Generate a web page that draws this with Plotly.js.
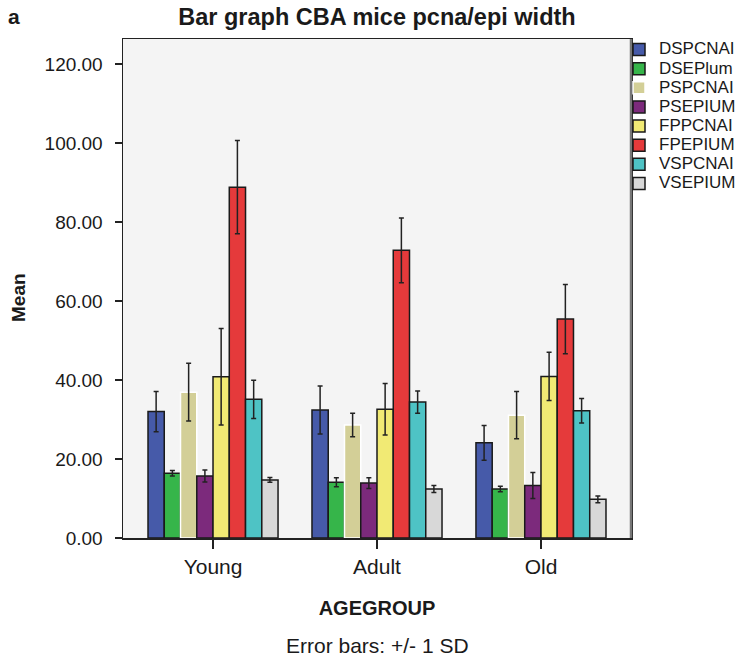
<!DOCTYPE html>
<html>
<head>
<meta charset="utf-8">
<script src="https://cdn.plot.ly/plotly-3.0.1.min.js"></script>
<style>body{margin:0;background:#fff;} #chart{width:738px;height:659px;}</style>
</head>
<body>
<div id="chart"></div>
<script>
const groups = ["Young", "Adult", "Old"];
const seriesNames = ["DSPCNAI", "DSEPlum", "PSPCNAI", "PSEPIUM", "FPPCNAI", "FPEPIUM", "VSPCNAI", "VSEPIUM"];
const DSPCNAI = [32.0, 32.4, 24.1];
const DSEPlum = [16.4, 14.1, 12.4];
const PSPCNAI = [36.9, 28.6, 31.1];
const PSEPIUM = [15.7, 13.9, 13.3];
const FPPCNAI = [40.8, 32.6, 40.9];
const FPEPIUM = [88.8, 72.8, 55.4];
const VSPCNAI = [35.1, 34.4, 32.2];
const VSEPIUM = [14.7, 12.4, 9.8];
const DSPCNAI_sd = [5.1, 6.1, 4.4];
const DSEPlum_sd = [0.7, 1.15, 0.7];
const PSPCNAI_sd = [7.3, 3.0, 6.0];
const PSEPIUM_sd = [1.5, 1.35, 3.3];
const FPPCNAI_sd = [12.2, 6.5, 6.1];
const FPEPIUM_sd = [11.8, 8.2, 8.75];
const VSPCNAI_sd = [4.85, 2.8, 3.1];
const VSEPIUM_sd = [0.6, 0.9, 0.85];
const yTicks = [0, 20, 40, 60, 80, 100, 120];

const means = [DSPCNAI, DSEPlum, PSPCNAI, PSEPIUM, FPPCNAI, FPEPIUM, VSPCNAI, VSEPIUM];
const sds = [DSPCNAI_sd, DSEPlum_sd, PSPCNAI_sd, PSEPIUM_sd, FPPCNAI_sd, FPEPIUM_sd, VSPCNAI_sd, VSEPIUM_sd];
const colors = ["#465aa9", "#36b54a", "#d3cf97", "#7c2a7c", "#f1ea74", "#e53a3b", "#4ec3c5", "#d8d8d8"];
const outlines = ["#1a1a1a", "#1a1a1a", "#ffffff", "#1a1a1a", "#1a1a1a", "#1a1a1a", "#1a1a1a", "#1a1a1a"];

const font = "Liberation Sans, Arial, Helvetica, sans-serif";
const W = 738, H = 659, L = 123, R = 631, T = 39, B = 538;
const pw = R - L, ph = B - T;
const px = v => (v - L) / pw;
const py = v => (B - v) / ph;

const traces = seriesNames.map((n, i) => ({
  type: "bar",
  name: "<span style='font-size:17px'>" + n + "</span>",
  x: groups,
  y: means[i],
  marker: {color: colors[i], line: {color: outlines[i], width: 1.5}},
  error_y: {type: "data", array: sds[i], visible: true, color: "#222", thickness: 1.5, width: 2.5}
}));

const layout = {
  width: W, height: H,
  margin: {l: L, r: W - R, t: T, b: H - B, autoexpand: false},
  paper_bgcolor: "#ffffff",
  plot_bgcolor: "#f4f4f4",
  barmode: "group",
  bargap: 0.207,
  bargroupgap: 0,
  font: {family: font, color: "#1a1a1a"},
  title: {text: "<b>Bar graph CBA mice pcna/epi width</b>", font: {size: 23.5, family: font, color: "#1a1a1a"},
          x: 0.5, xref: "paper", y: 1 - 17/H, yref: "container", yanchor: "middle"},
  xaxis: {
    range: [-0.549, 2.549],
    showline: true, linecolor: "#222", linewidth: 1.5, mirror: true,
    ticks: "outside", ticklen: 9, tickwidth: 1.5, tickcolor: "#222",
    tickfont: {size: 21, family: font, color: "#1a1a1a"},
    showgrid: false, zeroline: false,
    title: {text: "<b>AGEGROUP</b>", font: {size: 20, family: font, color: "#1a1a1a"}, standoff: 24}
  },
  yaxis: {
    range: [0, 126.3],
    tickvals: yTicks,
    ticktext: yTicks.map(v => v.toFixed(2)),
    showline: true, linecolor: "#222", linewidth: 1.5, mirror: true,
    ticks: "outside", ticklen: 7, tickwidth: 1.5, tickcolor: "#222",
    ticklabelstandoff: 8,
    tickfont: {size: 19, family: font, color: "#1a1a1a"},
    showgrid: false, zeroline: false
  },
  legend: {
    x: px(619), xref: "paper", xanchor: "left",
    y: 1 + 4 / ph, yanchor: "top", yref: "paper",
    bgcolor: "rgba(0,0,0,0)",
    font: {size: 12.4, family: font, color: "#1a1a1a"},
    tracegroupgap: 0
  },
  shapes: [
    {type: "line", xref: "paper", yref: "paper", x0: 1, x1: 1, y0: 0, y1: 1, line: {color: "#777", width: 2.5}}
  ],
  annotations: [
    {text: "<b>a</b>", xref: "paper", yref: "paper", x: px(14), y: py(17), xanchor: "center", yanchor: "middle",
     showarrow: false, font: {size: 21, family: font, color: "#1a1a1a"}},
    {text: "<b>Mean</b>", xref: "paper", yref: "paper", x: px(18), y: py(298), xanchor: "center", yanchor: "middle",
     textangle: -90, showarrow: false, font: {size: 19, family: font, color: "#1a1a1a"}},
    {text: "Error bars: +/- 1 SD", xref: "paper", yref: "paper", x: 0.5, y: py(645), xanchor: "center", yanchor: "middle",
     showarrow: false, font: {size: 21, family: font, color: "#1a1a1a"}}
  ]
};

Plotly.newPlot("chart", traces, layout, {displayModeBar: false, staticPlot: true});
</script>
</body>
</html>
